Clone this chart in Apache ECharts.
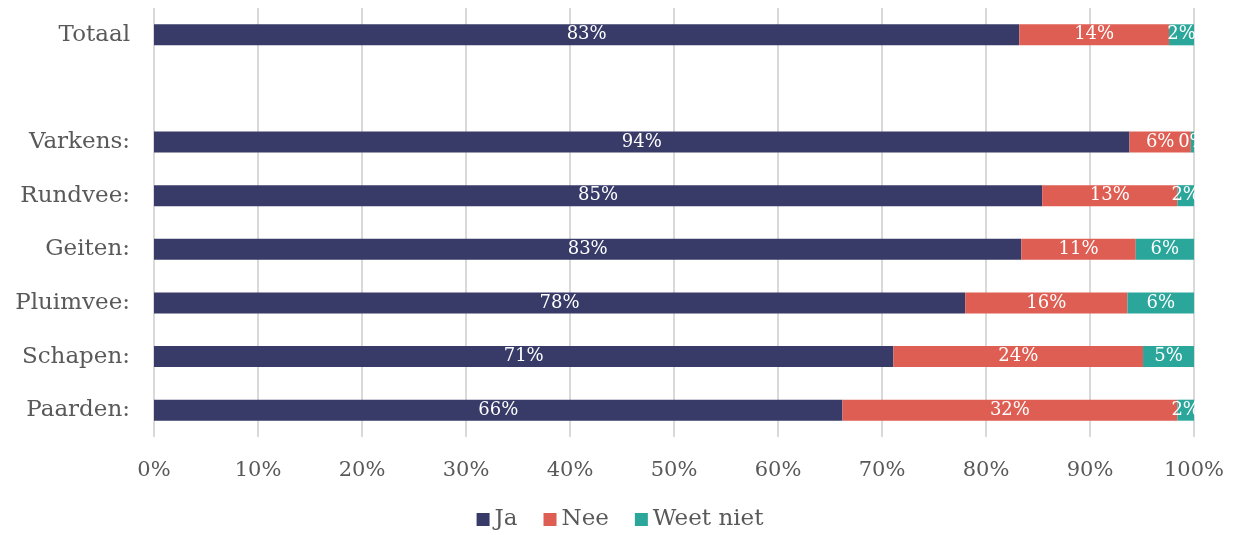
<!DOCTYPE html>
<html>
<head>
<meta charset="utf-8">
<script src="https://cdn.jsdelivr.net/npm/echarts@6/dist/echarts.min.js"></script>
<style>
  html, body { margin: 0; padding: 0; background: #fff; }
  #container { width: 1240px; height: 535px; }
</style>
</head>
<body>
<div id="container"></div>
<script>
var categories = ['Totaal', '', 'Varkens:', 'Rundvee:', 'Geiten:', 'Pluimvee:', 'Schapen:', 'Paarden:'];
var ja        = [83.2, null, 93.8, 85.4, 83.4, 78.0, 71.1, 66.2];
var nee       = [14.4, null, 5.9, 13.0, 11.0, 15.6, 24.0, 32.2];
var weetNiet  = [2.4, null, 0.3, 1.6, 5.6, 6.4, 4.9, 1.6];
var xTicks = [0, 10, 20, 30, 40, 50, 60, 70, 80, 90, 100];

var font = 'DejaVu Serif';
var dom = document.getElementById('container');
var myChart = echarts.init(dom);

function barLabel() {
    return {
        show: true,
        position: 'inside',
        color: '#fff',
        fontFamily: font,
        fontSize: 18,
        formatter: function (p) {
            return p.value == null ? '' : Math.round(p.value) + '%';
        }
    };
}

var option = {
    animation: false,
    textStyle: { fontFamily: font },
    grid: { left: 154, right: 46, top: 8, bottom: 98 },
    legend: {
        bottom: -1,
        left: 'center',
        itemWidth: 13,
        itemHeight: 13,
        itemGap: 26,
        icon: 'rect',
        textStyle: { fontFamily: font, fontSize: 23, color: '#595959' },
        data: ['Ja', 'Nee', 'Weet niet']
    },
    xAxis: {
        type: 'value',
        min: xTicks[0],
        max: xTicks[xTicks.length - 1],
        interval: 10,
        axisLine: { show: false },
        axisTick: { show: false },
        splitLine: { show: true, lineStyle: { color: '#d9d9d9', width: 2 } },
        axisLabel: {
            margin: 23,
            fontFamily: font,
            fontSize: 21,
            color: '#595959',
            formatter: '{value}%'
        }
    },
    yAxis: {
        type: 'category',
        inverse: true,
        data: categories,
        axisLine: { show: false },
        axisTick: { show: false },
        axisLabel: { margin: 24, fontFamily: font, fontSize: 23, color: '#595959' }
    },
    series: [
        { name: 'Ja', type: 'bar', stack: 'a', barWidth: 21, data: ja,
          itemStyle: { color: '#383b68' }, label: barLabel() },
        { name: 'Nee', type: 'bar', stack: 'a', barWidth: 21, data: nee,
          itemStyle: { color: '#df5e53' }, label: barLabel() },
        { name: 'Weet niet', type: 'bar', stack: 'a', barWidth: 21, data: weetNiet,
          itemStyle: { color: '#2ba69b' }, label: barLabel() }
    ]
};

myChart.setOption(option);
</script>
</body>
</html>
